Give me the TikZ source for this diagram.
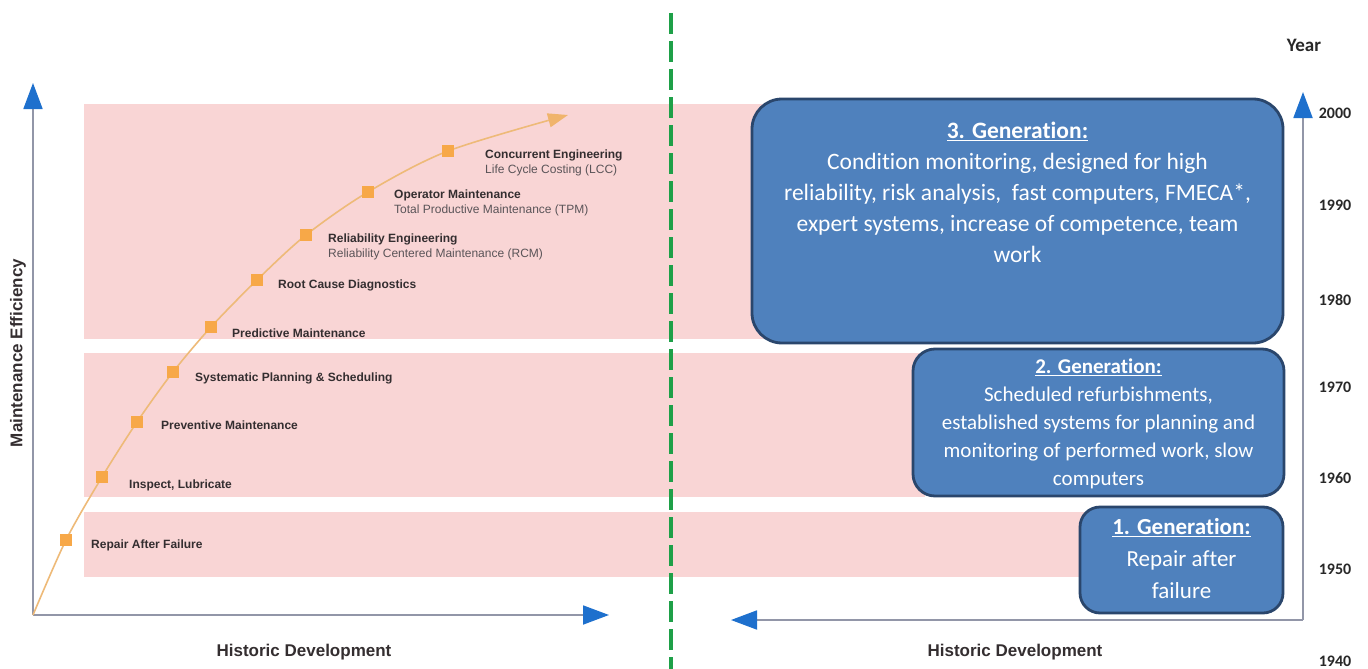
\documentclass[tikz,border=0pt]{standalone}
\usepackage{fontspec}
\setmainfont{Carlito}
\newfontfamily\calib[Ligatures=NoCommon]{Carlito}
\newfontfamily\arial{Liberation Sans}
\usetikzlibrary{arrows.meta}

\definecolor{band}{RGB}{249,213,213}
\definecolor{boxfill}{RGB}{79,129,189}
\definecolor{boxedge}{RGB}{42,70,108}
\definecolor{axisgray}{RGB}{146,150,168}
\definecolor{tipblue}{RGB}{30,112,205}
\definecolor{dashgreen}{RGB}{30,160,72}
\definecolor{curveor}{RGB}{238,186,120}
\definecolor{markor}{RGB}{247,168,72}
\definecolor{lbltext}{RGB}{52,46,48}
\definecolor{subtext}{RGB}{90,84,88}
\definecolor{yeartext}{RGB}{40,40,40}

\begin{document}
\begin{tikzpicture}[x=1pt,y=-1pt,
  axis/.style={draw=axisgray, line width=1.8pt},
  bluetip/.style={-{Triangle[length=26pt,width=19pt,color=tipblue]}},
  mk/.style={rectangle, fill=markor, minimum size=12pt, inner sep=0pt},
  lbl/.style={font=\arial\bfseries\fontsize{12}{14}\selectfont, text=lbltext, inner sep=0pt, anchor=base west},
  sub/.style={font=\arial\fontsize{12}{14}\selectfont, text=subtext, inner sep=0pt, anchor=base west},
  title/.style={font=\arial\bfseries\fontsize{17}{20}\selectfont, text=lbltext, inner sep=0pt},
  genbox/.style={rectangle, draw=boxedge, line width=2.8pt, fill=boxfill},
  gentext/.style={text=white, align=center, inner sep=0pt, anchor=north},
  year/.style={font=\calib\bfseries\fontsize{16}{18}\selectfont, text=yeartext, inner sep=0pt}
]
\fill[white] (0,0) rectangle (1368,669);
\useasboundingbox (0,0) rectangle (1368,669);

% generation bands
\fill[band] (84,104) rectangle (770,339);
\fill[band] (84,353) rectangle (925,497);
\fill[band] (84,512) rectangle (1090,577);

% separator between the two views
\coordinate (gtop) at (671,13);
\coordinate (gbot) at (671,669);
\draw[dashgreen, line width=4pt, dash pattern=on 21pt off 7pt] (gtop) -- (gbot);

% left axes
\coordinate (lo) at (33,615);
\coordinate (ly) at (33,83);
\coordinate (lx) at (609,615);
\draw[axis, bluetip] (lo) -- (ly);
\draw[axis, bluetip] (lo) -- (lx);

% right axes
\coordinate (ro) at (1303,620);
\coordinate (ry) at (1303,92);
\coordinate (rx) at (731,620);
\draw[axis, bluetip] (ro) -- (ry);
\draw[axis, bluetip] (ro) -- (rx);

% development curve
\coordinate (c1) at (66,540);
\coordinate (c2) at (102,477);
\coordinate (c3) at (137,422);
\coordinate (c4) at (173,372);
\coordinate (c5) at (211,327);
\coordinate (c6) at (257,280);
\coordinate (c7) at (306,235);
\coordinate (c8) at (368,192);
\coordinate (c9) at (448,151);
\coordinate (cend) at (568,115);
\draw[curveor, line width=1.6pt, -{Triangle[length=20pt,width=14pt,color=curveor!90!orange]}]
  plot[smooth, tension=0.5] coordinates {(lo) (c1) (c2) (c3) (c4) (c5) (c6) (c7) (c8) (c9) (cend)};
\foreach \i in {1,...,9} \node[mk] (m\i) at (c\i) {};

% curve labels
\node[lbl] (t1) at (91,548) {Repair After Failure};
\node[lbl] (t2) at (129,488) {Inspect, Lubricate};
\node[lbl] (t3) at (161,429) {Preventive Maintenance};
\node[lbl] (t4) at (195,381) {Systematic Planning \& Scheduling};
\node[lbl] (t5) at (232,337) {Predictive Maintenance};
\node[lbl] (t6) at (278,288) {Root Cause Diagnostics};
\node[lbl] (t7) at (328,242) {Reliability Engineering};
\node[sub] (s7) at (328,257) {Reliability Centered Maintenance (RCM)};
\node[lbl] (t8) at (394,198) {Operator Maintenance};
\node[sub] (s8) at (394,213) {Total Productive Maintenance (TPM)};
\node[lbl] (t9) at (485,158) {Concurrent Engineering};
\node[sub] (s9) at (485,173) {Life Cycle Costing (LCC)};

% axis titles
\node[title, rotate=90] (yl) at (18,353) {Maintenance Efficiency};
\node[title] (xl) at (304,652) {Historic Development};
\node[title] (xr) at (1015,652) {Historic Development};

% generation boxes
\node[genbox, rounded corners=30pt, minimum width=531pt, minimum height=244pt] (g3) at (1017.5,221) {};
\node[genbox, rounded corners=22pt, minimum width=371pt, minimum height=147pt] (g2) at (1098.5,422.5) {};
\node[genbox, rounded corners=20pt, minimum width=203pt, minimum height=106pt] (g1) at (1181.5,560) {};

\node[gentext, font=\calib\fontsize{23.5}{31}\selectfont] (g3t) at (1017.5,122) {%
  {\bfseries\underline{3. Generation:}}\\
  Condition monitoring, designed for high\\
  reliability, risk analysis,\ \ fast computers, FMECA*,\\
  expert systems, increase of competence, team\\
  work};
\node[gentext, font=\calib\fontsize{21}{28}\selectfont] (g2t) at (1098.5,359) {%
  {\bfseries\underline{2. Generation:}}\\
  Scheduled refurbishments,\\
  established systems for planning and\\
  monitoring of performed work, slow\\
  computers};
\node[gentext, font=\calib\fontsize{23}{32}\selectfont] (g1t) at (1181.5,518) {%
  {\bfseries\underline{1. Generation:}}\\
  Repair after\\
  failure};

% year scale
\node[year, font=\calib\bfseries\fontsize{19}{22}\selectfont] (yr) at (1304,45) {Year};
\node[year] (y2000) at (1335,113) {2000};
\node[year] (y1990) at (1335,205) {1990};
\node[year] (y1980) at (1335,300) {1980};
\node[year] (y1970) at (1335,387) {1970};
\node[year] (y1960) at (1335,478) {1960};
\node[year] (y1950) at (1335,569) {1950};
\node[year] (y1940) at (1335,661) {1940};
\end{tikzpicture}
\end{document}
